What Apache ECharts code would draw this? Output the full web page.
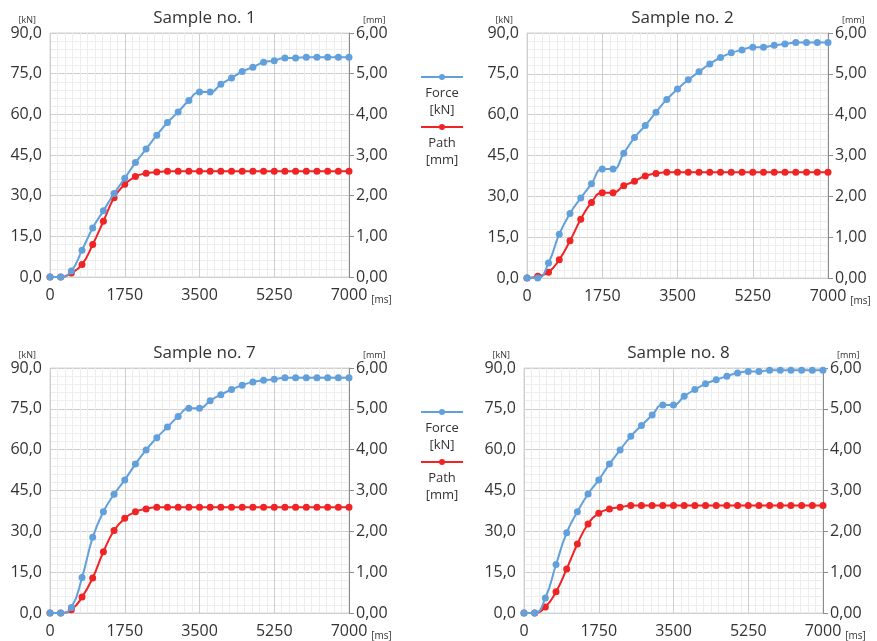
<!DOCTYPE html>
<html>
<head>
<meta charset="utf-8">
<script src="https://cdn.jsdelivr.net/npm/echarts@6/dist/echarts.min.js"></script>
<style>
html,body{margin:0;padding:0;background:#fff;}
#c{width:877px;height:641px;}
</style>
</head>
<body>
<div id="c"></div>
<script>
const times = [0,250,500,750,1000,1250,1500,1750,2000,2250,2500,2750,3000,3250,3500,3750,4000,4250,4500,4750,5000,5250,5500,5750,6000,6250,6500,6750,7000];
const xTicks = [0,1750,3500,5250,7000];
const titles = ['Sample no. 1','Sample no. 2','Sample no. 7','Sample no. 8'];

const force1 = [0,0,2.2,9.9,18.1,24.4,30.8,36.4,42.2,47.2,52.3,57.0,60.9,65.1,68.2,68.2,71.1,73.4,75.8,77.4,79.2,79.8,80.8,80.8,81.1,81.1,81.1,81.1,81.1];
const path1  = [0,0,0.1,0.31,0.8,1.37,1.95,2.28,2.47,2.55,2.58,2.6,2.6,2.6,2.6,2.6,2.6,2.6,2.6,2.6,2.6,2.6,2.6,2.6,2.6,2.6,2.6,2.6,2.6];
const force2 = [0,0,5.5,16.1,23.7,29.4,34.6,40.0,40.0,45.8,51.6,56.0,60.9,65.6,69.4,72.8,75.8,78.6,81.0,82.7,83.8,84.8,84.8,85.5,86.0,86.5,86.5,86.5,86.5];
const path2  = [0,0.04,0.14,0.45,0.91,1.44,1.85,2.09,2.09,2.26,2.37,2.5,2.56,2.59,2.59,2.59,2.59,2.59,2.59,2.59,2.59,2.59,2.59,2.59,2.59,2.59,2.59,2.59,2.59];
const force7 = [0,0,2.0,13.0,27.8,37.2,43.6,48.9,54.7,59.9,64.4,68.3,72.2,75.2,75.2,78.0,80.2,82.1,83.7,84.9,85.5,85.9,86.4,86.4,86.4,86.4,86.4,86.4,86.4];
const path7  = [0,0,0.08,0.39,0.86,1.5,2.02,2.32,2.48,2.55,2.59,2.59,2.59,2.59,2.59,2.59,2.59,2.59,2.59,2.59,2.59,2.59,2.59,2.59,2.59,2.59,2.59,2.59,2.59];
const force8 = [0,0,5.5,17.8,29.5,37.2,43.7,48.9,54.7,59.9,64.9,68.9,72.7,76.4,76.4,79.6,82.1,84.2,85.7,87.0,88.2,88.7,88.7,89.2,89.2,89.2,89.2,89.2,89.2];
const path8  = [0,0,0.15,0.52,1.08,1.69,2.18,2.44,2.55,2.59,2.63,2.63,2.63,2.63,2.63,2.63,2.63,2.63,2.63,2.63,2.63,2.63,2.63,2.63,2.63,2.63,2.63,2.63,2.63];

const forces = [force1, force2, force7, force8];
const paths = [path1, path2, path7, path8];

const BLUE = '#62a0dc';
const RED = '#f02424';
const TXT = '#333333';
const FONT = 'Open Sans';

const grids = [
  {left:50, top:33, width:299, height:244},
  {left:527, top:33, width:301, height:245},
  {left:50, top:368, width:299, height:245},
  {left:524, top:368, width:299, height:245}
];

const chart = echarts.init(document.getElementById('c'), null, {renderer:'canvas'});
const option = {
  animation:false,
  backgroundColor:'#ffffff',
  title:[], grid:[], xAxis:[], yAxis:[], series:[], graphic:[]
};

grids.forEach((g,i)=>{
  option.grid.push({left:g.left, top:g.top, width:g.width, height:g.height, containLabel:false,
    show:true, borderColor:'#d6d6d6', borderWidth:1, backgroundColor:'transparent'});
  option.title.push({text:titles[i], left:g.left + g.width/2, top:g.top-28, textAlign:'center',
    textStyle:{fontFamily:FONT, fontSize:17, fontWeight:'normal', color:TXT}});
  option.xAxis.push({type:'value', gridIndex:i, min:xTicks[0], max:xTicks[xTicks.length-1], interval:xTicks[1]-xTicks[0],
    axisLine:{show:true, lineStyle:{color:'#d0d0d0'}}, axisTick:{show:false},
    minorTick:{show:false, splitNumber:10},
    minorSplitLine:{show:true, lineStyle:{color:'#ededed', width:1}},
    splitLine:{show:true, lineStyle:{color:'#cfcfcf', width:1}},
    axisLabel:{fontFamily:FONT, fontSize:16, color:TXT, margin:10, formatter:v=>String(v)},
    name:'[ms]', nameLocation:'end', nameGap:0,
    nameTextStyle:{fontFamily:FONT, fontSize:10, color:TXT, align:'left', verticalAlign:'top', padding:[18,0,0,18]}
  });
  option.yAxis.push({type:'value', gridIndex:i, min:0, max:90, interval:15, position:'left',
    axisLine:{show:false}, axisTick:{show:false},
    minorTick:{show:false, splitNumber:5},
    minorSplitLine:{show:true, lineStyle:{color:'#ededed', width:1}},
    splitLine:{show:true, lineStyle:{color:'#cfcfcf', width:1}},
    axisLabel:{fontFamily:FONT, fontSize:16, color:TXT, margin:8, formatter:v=>v.toFixed(1).replace('.',',')},
    name:'[kN]', nameLocation:'end', nameGap:8,
    nameTextStyle:{fontFamily:FONT, fontSize:9, color:TXT, align:'right', padding:[0,14,0,0]}
  });
  option.yAxis.push({type:'value', gridIndex:i, min:0, max:6, interval:1, position:'right',
    axisLine:{show:true, lineStyle:{color:'#8c8c8c', width:1}},
    axisTick:{show:true, inside:false, length:5, lineStyle:{color:'#8c8c8c'}},
    splitLine:{show:false},
    axisLabel:{fontFamily:FONT, fontSize:16, color:TXT, margin:7, formatter:v=>v.toFixed(2).replace('.',',')},
    name:'[mm]', nameLocation:'end', nameGap:8,
    nameTextStyle:{fontFamily:FONT, fontSize:9, color:TXT, align:'left', padding:[0,0,0,14]}
  });
  option.series.push({type:'line', name:'Force [kN]', xAxisIndex:i, yAxisIndex:2*i,
    data:times.map((t,k)=>[t, forces[i][k]]), smooth:0.5,
    symbol:'circle', symbolSize:7, clip:false,
    lineStyle:{color:BLUE, width:2}, itemStyle:{color:BLUE}, z:3});
  option.series.push({type:'line', name:'Path [mm]', xAxisIndex:i, yAxisIndex:2*i+1,
    data:times.map((t,k)=>[t, paths[i][k]]), smooth:0.5,
    symbol:'circle', symbolSize:7, clip:false,
    lineStyle:{color:RED, width:2}, itemStyle:{color:RED}, z:2});
});

// legends (two, between the panel columns)
[0, 335].forEach(dy=>{
  const cx = 442;
  const items = [
    {color:BLUE, y:77+dy, l1:'Force', l2:'[kN]'},
    {color:RED, y:127+dy, l1:'Path', l2:'[mm]'}
  ];
  items.forEach(it=>{
    option.graphic.push({type:'line', shape:{x1:cx-21, y1:it.y, x2:cx+21, y2:it.y}, style:{stroke:it.color, lineWidth:2}});
    option.graphic.push({type:'circle', shape:{cx:cx, cy:it.y, r:3}, style:{fill:it.color}});
    option.graphic.push({type:'text', x:cx, y:it.y+16, style:{text:it.l1, fontFamily:FONT, fontSize:13, fill:TXT, align:'center', verticalAlign:'middle'}});
    option.graphic.push({type:'text', x:cx, y:it.y+33, style:{text:it.l2, fontFamily:FONT, fontSize:13, fill:TXT, align:'center', verticalAlign:'middle'}});
  });
});

chart.setOption(option);
</script>
</body>
</html>
